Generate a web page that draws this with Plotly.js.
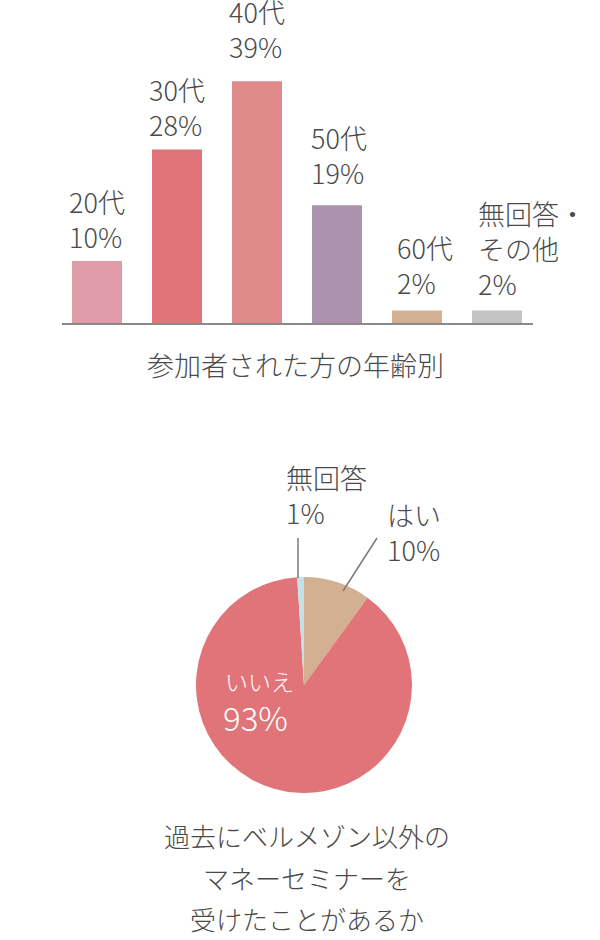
<!DOCTYPE html>
<html>
<head>
<meta charset="utf-8">
<script src="https://cdn.plot.ly/plotly-3.0.1.min.js"></script>
<style>
  html, body { margin: 0; padding: 0; background: #fff; }
  #chart { width: 600px; height: 940px; }
</style>
</head>
<body>
<div id="chart"></div>
<script>
// ---- data ----
const ageCategories = ["20代", "30代", "40代", "50代", "60代", "無回答・<br>その他"];
const agePercents = [10, 28, 39, 19, 2, 2];
const ageTitle = "参加者された方の年齢別";

const pieLabels = ["はい", "いいえ", "無回答"];
const pieValues = [10, 89, 1];
const pieLabelText = ["10%", "93%", "1%"];
const pieTitleLines = ["過去にベルメゾン以外の", "マネーセミナーを", "受けたことがあるか"];

// ---- styles ----
const FONT = '"Noto Sans CJK JP", "Noto Sans", sans-serif';
const TXT = '#4a4a4a';
const barColors = ['#e09da9', '#e07478', '#e08a8c', '#ad92ae', '#d4b092', '#c4c4c4'];
const pieColors = ['#d4b092', '#e07478', '#c5e1e8'];
const labelXShift = [0, 0, 0, 2, 8, 35];
const labelYShift = [3, 3, 13, 11, 7, 6];
const W = 600, H = 940;
const px = x => x / W;
const py = y => 1 - y / H;

const xIdx = ageCategories.map((_, i) => i);

const barTrace = {
  type: 'bar',
  x: xIdx,
  y: agePercents,
  marker: { color: barColors },
  hoverinfo: 'skip',
  xaxis: 'x', yaxis: 'y'
};

const pieTrace = {
  type: 'pie',
  labels: pieLabels,
  values: pieValues,
  sort: false,
  direction: 'clockwise',
  rotation: 0,
  textinfo: 'none',
  hoverinfo: 'skip',
  marker: { colors: pieColors, line: { width: 0 } },
  domain: { x: [px(196), px(412)], y: [py(793), py(577)] },
  showlegend: false
};

const annotations = [];
ageCategories.forEach((c, i) => {
  annotations.push({
    x: i, y: agePercents[i], xref: 'x', yref: 'y',
    text: c + '<br>' + agePercents[i] + '%',
    showarrow: false, xanchor: 'center', yanchor: 'bottom', align: 'left',
    xshift: labelXShift[i], yshift: labelYShift[i],
    font: { family: FONT, size: 27, color: TXT, weight: 300 }
  });
});
annotations.push({
  x: px(295), y: py(364), xref: 'paper', yref: 'paper',
  text: ageTitle, showarrow: false, xanchor: 'center', yanchor: 'middle',
  font: { family: FONT, size: 27, color: TXT, weight: 300 }
});
// pie labels
annotations.push({
  x: px(284), y: py(534), xref: 'paper', yref: 'paper',
  text: pieLabels[2] + '<br>' + pieLabelText[2], showarrow: false,
  xanchor: 'left', yanchor: 'bottom', align: 'left',
  font: { family: FONT, size: 27, color: TXT, weight: 300 }
});
annotations.push({
  x: px(385), y: py(571), xref: 'paper', yref: 'paper',
  text: pieLabels[0] + '<br>' + pieLabelText[0], showarrow: false,
  xanchor: 'left', yanchor: 'bottom', align: 'left',
  font: { family: FONT, size: 27, color: TXT, weight: 300 }
});
annotations.push({
  x: px(223), y: py(700), xref: 'paper', yref: 'paper',
  text: pieLabels[1], showarrow: false,
  xanchor: 'left', yanchor: 'bottom', align: 'left',
  font: { family: FONT, size: 23, color: '#ffffff', weight: 300 }
});
annotations.push({
  x: px(221), y: py(717), xref: 'paper', yref: 'paper',
  text: pieLabelText[1], showarrow: false,
  xanchor: 'left', yanchor: 'middle', align: 'left',
  font: { family: FONT, size: 33, color: '#ffffff', weight: 300 }
});
// pie title lines
const titleY = [835, 877, 918];
pieTitleLines.forEach((t, i) => {
  annotations.push({
    x: px(307), y: py(titleY[i]), xref: 'paper', yref: 'paper',
    text: t, showarrow: false, xanchor: 'center', yanchor: 'middle',
    font: { family: FONT, size: 26, color: TXT, weight: 300 }
  });
});

const shapes = [
  { type: 'line', xref: 'paper', yref: 'paper', x0: px(298), x1: px(298), y0: py(538), y1: py(578),
    line: { color: '#7a7a7a', width: 1.5 } },
  { type: 'line', xref: 'paper', yref: 'paper', x0: px(377), x1: px(343), y0: py(538), y1: py(591),
    line: { color: '#7a7a7a', width: 1.5 } }
];

const layout = {
  width: W, height: H,
  margin: { l: 0, r: 0, t: 0, b: 0 },
  paper_bgcolor: '#ffffff', plot_bgcolor: '#ffffff',
  showlegend: false,
  bargap: 0.375,
  xaxis: {
    domain: [px(62), px(533)],
    range: [-0.4375, 5.45],
    showline: true, linecolor: '#8a8a8a', linewidth: 2,
    showticklabels: false, ticks: '', showgrid: false, zeroline: false,
    fixedrange: true
  },
  yaxis: {
    domain: [py(323), py(44)],
    range: [0, 45],
    visible: false, showgrid: false, zeroline: false, fixedrange: true
  },
  annotations: annotations,
  shapes: shapes
};

Plotly.newPlot('chart', [barTrace, pieTrace], layout, { staticPlot: true, displayModeBar: false });
</script>
</body>
</html>
